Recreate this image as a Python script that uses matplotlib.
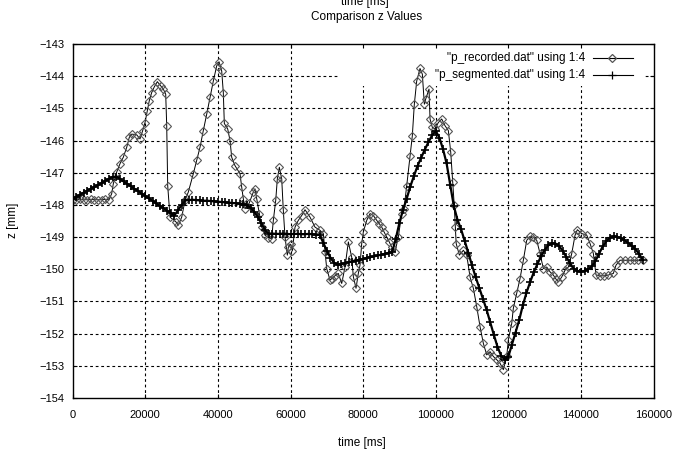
import numpy as np
import matplotlib
matplotlib.use("Agg")
import matplotlib.pyplot as plt
from matplotlib.lines import Line2D
from matplotlib.patches import Rectangle

plt.rcParams["font.family"] = ["Liberation Sans", "DejaVu Sans"]

# "p_recorded.dat" using 1:4  -> (time [ms], z [mm])
recorded = [
    (0, -147.84), (1000, -147.84), (2000, -147.83), (3000, -147.84), (4000, -147.84),
    (5000, -147.83), (6000, -147.84), (7000, -147.84), (8000, -147.84), (9000, -147.83),
    (10000, -147.84), (10745, -147.65), (11190, -147.34), (12120, -146.98), (13030, -146.72),
    (13940, -146.52), (14880, -146.21), (15590, -145.90), (16250, -145.80), (17630, -145.82),
    (18540, -145.95), (19280, -145.69), (19920, -145.44), (20550, -145.07), (21100, -144.76),
    (21760, -144.51), (22400, -144.35), (23310, -144.17), (24240, -144.30), (24960, -144.40),
    (25620, -144.56), (25900, -145.54), (26170, -147.40), (26810, -148.38), (28460, -148.53),
    (29090, -148.63), (30030, -148.38), (30940, -147.86), (31850, -147.60), (33230, -147.03),
    (34160, -146.62), (35070, -146.21), (35980, -145.69), (36920, -145.18), (37830, -144.66),
    (38740, -144.15), (39670, -143.68), (40310, -143.55), (41050, -143.84), (41490, -144.51),
    (41770, -145.47), (42700, -145.64), (43340, -146.00), (43800, -146.52), (44710, -146.78),
    (46090, -147.03), (46560, -147.45), (47000, -147.81), (47470, -148.12), (48600, -147.95),
    (49760, -147.60), (50220, -147.50), (50690, -147.81), (51410, -148.27), (52070, -148.69),
    (52980, -148.94), (53900, -149.02), (54820, -149.05), (55270, -148.48), (55930, -147.86),
    (56370, -147.19), (56920, -146.83), (57580, -147.19), (58020, -148.17), (58490, -149.00),
    (59120, -149.56), (59400, -149.31), (60060, -149.22), (60500, -149.43), (61240, -148.69),
    (62150, -148.48), (63090, -148.33), (64000, -148.15), (65380, -148.38), (66750, -148.69),
    (68130, -148.79), (69040, -148.89), (69510, -149.46), (69980, -149.98), (70890, -150.34),
    (71350, -150.29), (72260, -150.20), (73170, -150.13), (74110, -150.44), (75020, -149.93),
    (75930, -149.15), (76860, -149.62), (77310, -150.23), (78050, -150.59), (78680, -150.13),
    (79150, -149.87), (79620, -149.20), (80060, -148.84), (81000, -148.48), (81910, -148.27),
    (82820, -148.33), (83750, -148.48), (84440, -148.58), (85130, -148.69), (85820, -148.85),
    (86510, -149.00), (87200, -149.15), (87880, -149.31), (88790, -149.46), (89700, -149.00),
    (90640, -148.27), (91270, -148.12), (92020, -147.40), (92930, -146.47), (93560, -145.85),
    (94110, -144.87), (94770, -144.15), (95680, -143.76), (96320, -143.94), (96870, -144.87),
    (97250, -144.71), (98160, -144.40), (98440, -145.33), (99070, -145.59), (99810, -145.64),
    (100720, -145.44), (101660, -145.33), (102570, -145.54), (103480, -145.69), (104140, -146.36),
    (104690, -147.29), (105100, -148.00), (105400, -148.70), (105640, -149.20), (106520, -149.56),
    (107620, -149.41), (108550, -149.56), (109460, -150.24), (110370, -150.59), (111300, -151.16),
    (112210, -151.78), (113120, -152.30), (114060, -152.66), (114970, -152.56), (115880, -152.71),
    (116810, -152.81), (117720, -152.92), (118630, -153.12), (119570, -152.71), (120010, -152.19),
    (120950, -151.68), (121390, -151.21), (122320, -150.75), (123230, -150.29), (124140, -149.72),
    (125080, -149.10), (125990, -148.98), (126900, -149.00), (127830, -149.10), (128740, -149.51),
    (129650, -149.98), (130590, -149.93), (131500, -150.08), (132410, -150.18), (133100, -150.30),
    (133790, -150.39), (134720, -150.24), (135630, -150.03), (136540, -149.93), (137480, -149.51),
    (138390, -148.94), (139020, -148.77), (140230, -148.89), (141610, -148.94), (142520, -149.20),
    (143430, -149.51), (144170, -150.18), (145270, -150.21), (146400, -150.20), (147560, -150.18),
    (148940, -150.13), (149680, -149.87), (150790, -149.72), (152200, -149.72), (153540, -149.72),
    (154700, -149.72), (155830, -149.72), (157200, -149.72),
]

# "p_segmented.dat" using 1:4, sampled every 1000 ms from t = 0
seg_step = 1000
seg_z = [
    -147.81, -147.75, -147.69, -147.62, -147.56, -147.50, -147.44, -147.38, -147.32, -147.25,
    -147.19, -147.13, -147.12, -147.19, -147.27, -147.34, -147.42, -147.50, -147.57, -147.65,
    -147.72, -147.80, -147.87, -147.95, -148.03, -148.10, -148.18, -148.25, -148.33, -148.17,
    -148.00, -147.86, -147.85, -147.84, -147.85, -147.86, -147.87, -147.87, -147.88, -147.89,
    -147.90, -147.91, -147.92, -147.93, -147.94, -147.95, -147.96, -147.98, -148.01, -148.09,
    -148.21, -148.38, -148.57, -148.79, -148.89, -148.89, -148.90, -148.90, -148.89, -148.90,
    -148.91, -148.90, -148.90, -148.91, -148.91, -148.90, -148.91, -148.92, -148.92, -149.17,
    -149.42, -149.64, -149.80, -149.86, -149.84, -149.81, -149.78, -149.76, -149.73, -149.70,
    -149.68, -149.65, -149.62, -149.60, -149.57, -149.55, -149.52, -149.49, -149.47, -149.05,
    -148.56, -148.15, -147.81, -147.43, -147.10, -146.79, -146.53, -146.28, -146.05, -145.84,
    -145.70, -145.91, -146.26, -146.71, -147.38, -148.04, -148.46, -148.76, -149.12, -149.49,
    -149.88, -150.24, -150.58, -150.91, -151.25, -151.64, -152.03, -152.40, -152.68, -152.81,
    -152.72, -152.34, -151.97, -151.58, -151.12, -150.73, -150.40, -150.10, -149.84, -149.60,
    -149.40, -149.26, -149.19, -149.20, -149.28, -149.43, -149.62, -149.81, -149.98, -150.05,
    -150.08, -150.05, -150.00, -149.91, -149.74, -149.52, -149.29, -149.13, -149.02, -148.98,
    -149.00, -149.03, -149.10, -149.18, -149.27, -149.37, -149.52, -149.70,
]

x_ticks = list(range(0, 160001, 20000))
y_ticks = list(range(-154, -142))

rec_t = [p[0] for p in recorded]
rec_z = [p[1] for p in recorded]
seg_t = [i * seg_step for i in range(len(seg_z))]

fig = plt.figure(figsize=(6.85, 4.53), dpi=100)
ax = fig.add_axes([72.7 / 685, 1 - 398 / 453, 580.8 / 685, 354 / 453])

ax.set_xlim(0, 160000)
ax.set_ylim(-154, -143)
ax.set_xticks(x_ticks)
ax.set_yticks(y_ticks)
ax.tick_params(direction="in", length=3, width=0.8, top=True, right=True,
               labelsize=8, colors="black")
ax.tick_params(axis="x", pad=9)
ax.tick_params(axis="y", pad=6)

# gnuplot style dashed grid, drawn by hand so the key area can blank it
for xv in x_ticks[1:-1]:
    ax.axvline(xv, color="black", lw=0.8, ls=(0, (2.5, 2.5)), zorder=0.5)
for yv in y_ticks[1:-1]:
    ax.axhline(yv, color="black", lw=0.8, ls=(0, (2.5, 2.5)), zorder=0.5)
ax.add_patch(Rectangle((0.46, 0.88), 0.522, 0.12, transform=ax.transAxes,
                       facecolor="white", edgecolor="none", zorder=0.6))

ax.plot(rec_t, rec_z, color="black", lw=0.7, marker="D", ms=4.5,
        mfc="none", mec="#555555", mew=0.8, zorder=2)
ax.plot(seg_t, seg_z, color="black", lw=1.6, marker="+", ms=6,
        mec="black", mew=1.2, zorder=3)

for sp in ax.spines.values():
    sp.set_linewidth(1.0)

# key (right-justified text, sample on the right, like gnuplot)
key_rows = [('"p_recorded.dat" using 1:4', "D", "#555555", 0.961),
            ('"p_segmented.dat" using 1:4', "+", "black", 0.912)]
for label, mk, mc, ky in key_rows:
    ax.text(0.882, ky, label, transform=ax.transAxes, ha="right", va="center",
            fontsize=8.5)
    ax.add_line(Line2D([0.896, 0.965], [ky, ky], transform=ax.transAxes,
                       color="black", lw=0.8))
    ax.add_line(Line2D([0.929], [ky], transform=ax.transAxes, marker=mk,
                       ms=4 if mk == "D" else 6, mfc="none", mec=mc, mew=0.9,
                       ls="none"))

fig.text(365 / 685, 1 - 2 / 453, "time [ms]", ha="center", va="center", fontsize=8.5)
fig.text(367 / 685, 1 - 17 / 453, "Comparison z Values", ha="center", va="center",
         fontsize=8.5)
fig.text(362 / 685, 1 - 443 / 453, "time [ms]", ha="center", va="center", fontsize=8.5)
fig.text(13 / 685, 1 - 220 / 453, "z [mm]", ha="center", va="center", rotation=90,
         fontsize=8.5)

fig.savefig("out.png", dpi=100)
